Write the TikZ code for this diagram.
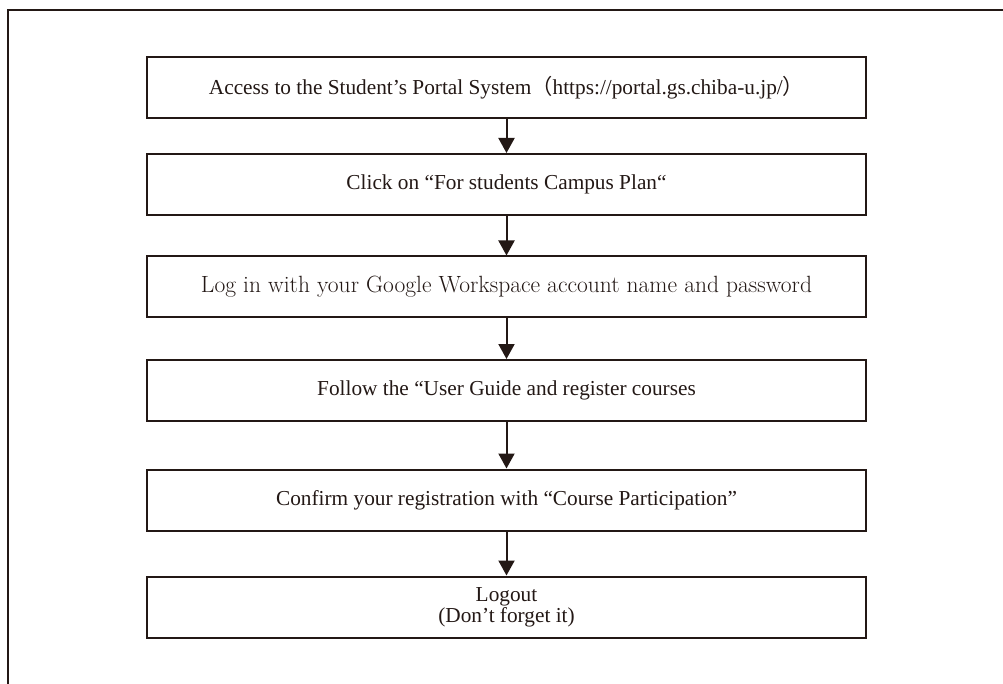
\documentclass[tikz,border=0pt]{standalone}
\usepackage{fontspec}
\newfontfamily\timesfont{Liberation Serif}
\newfontfamily\cjkfont{Noto Sans CJK JP}
\usetikzlibrary{arrows.meta}
\definecolor{ink}{HTML}{231815}
\begin{document}
\begin{tikzpicture}[x=1pt, y=-1pt,
        stepbox/.style={draw=ink, line width=2pt, minimum width=719pt, minimum height=61pt,
            inner sep=0pt, align=center, text=ink, font=\timesfont\fontsize{21.3}{21}\selectfont},
        flow/.style={draw=ink, line width=2pt, -{Triangle[length=15pt, width=16pt]}}]
    \useasboundingbox (0, 0) rectangle (1003, 684);
    \draw[ink, line width=2pt] (1003, 10) -- (8, 10) -- (8, 684);
    \node[stepbox] (access) at (506.5, 87.5) {Access to the Student’s Portal System{\cjkfont （}https://portal.gs.chiba-u.jp/{\cjkfont ）}};
    \node[stepbox] (click) at (506.5, 184.5) {Click on “For students Campus Plan“};
    \node[stepbox, font=\fontsize{23.5}{26}\selectfont\addfontfeatures{FakeBold=1.2}] (login) at (506.5, 287) {Log in with your Google Workspace account name and password};
    \node[stepbox] (guide) at (506.5, 390.5) {Follow the “User Guide and register courses};
    \node[stepbox] (confirm) at (506.5, 500) {Confirm your registration with “Course Participation”};
    \node[stepbox] (logout) at (506.5, 607) {Logout\\(Don’t forget it)};
    \draw[flow] (access) -- (click);
    \draw[flow] (click) -- (login);
    \draw[flow] (login) -- (guide);
    \draw[flow] (guide) -- (confirm);
    \draw[flow] (confirm) -- (logout);
\end{tikzpicture}
\end{document}
